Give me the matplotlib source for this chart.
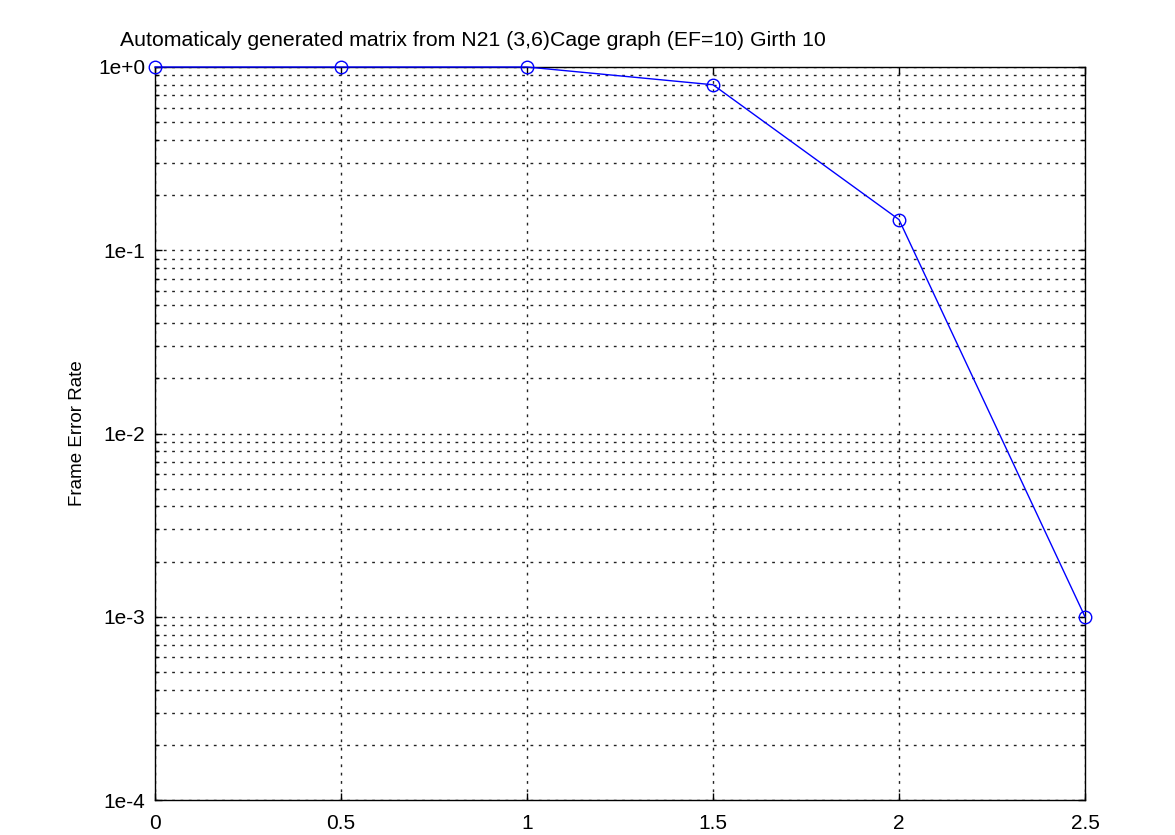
import numpy as np
import matplotlib
matplotlib.use("Agg")
import matplotlib.pyplot as plt
from matplotlib.ticker import FixedLocator, FixedFormatter, LogLocator, NullFormatter

# data
snr = [0.0, 0.5, 1.0, 1.5, 2.0, 2.5]
fer = [1.0, 1.0, 1.0, 0.8, 0.147, 0.001]
xticks = [0, 0.5, 1, 1.5, 2, 2.5]
yticks = [1e-4, 1e-3, 1e-2, 1e-1, 1e0]
ytick_labels = ["1e-4", "1e-3", "1e-2", "1e-1", "1e+0"]

plt.rcParams['font.family'] = ['Liberation Sans', 'DejaVu Sans']

fig = plt.figure(figsize=(11.75, 8.35), dpi=100)
ax = fig.add_axes([155 / 1175, 35 / 835, 930 / 1175, 733 / 835])

ax.semilogy(snr, fer, '-o', color='blue', linewidth=1.0, markersize=9,
            markerfacecolor='none', markeredgewidth=1.0, clip_on=False, zorder=5)

ax.set_xlim(0, 2.5)
ax.set_ylim(1e-4, 1e0)
ax.set_xticks(xticks)
ax.set_xticklabels([f"{t:g}" for t in xticks])
ax.yaxis.set_major_locator(FixedLocator(yticks))
ax.yaxis.set_major_formatter(FixedFormatter(ytick_labels))
ax.yaxis.set_minor_locator(LogLocator(base=10, subs=np.arange(2, 10)))
ax.yaxis.set_minor_formatter(NullFormatter())

ax.grid(True, which='both', color='#222222', linestyle=(0, (2, 4)), linewidth=1.0)
ax.tick_params(which='both', direction='in', top=True, right=True, labelsize=15,
               length=5, width=1)
ax.tick_params(axis='y', pad=7)
ax.tick_params(axis='x', pad=10)
ax.tick_params(which='minor', length=3)
for s in ax.spines.values():
    s.set_linewidth(1.0)

ax.set_ylabel("Frame Error Rate", fontsize=13.5, labelpad=9)
fig.text(120 / 1175, 1 - 40 / 835, "Automaticaly generated matrix from N21 (3,6)Cage graph (EF=10) Girth 10",
         fontsize=15.3, ha='left', va='center')

fig.savefig("out.png", dpi=100)
